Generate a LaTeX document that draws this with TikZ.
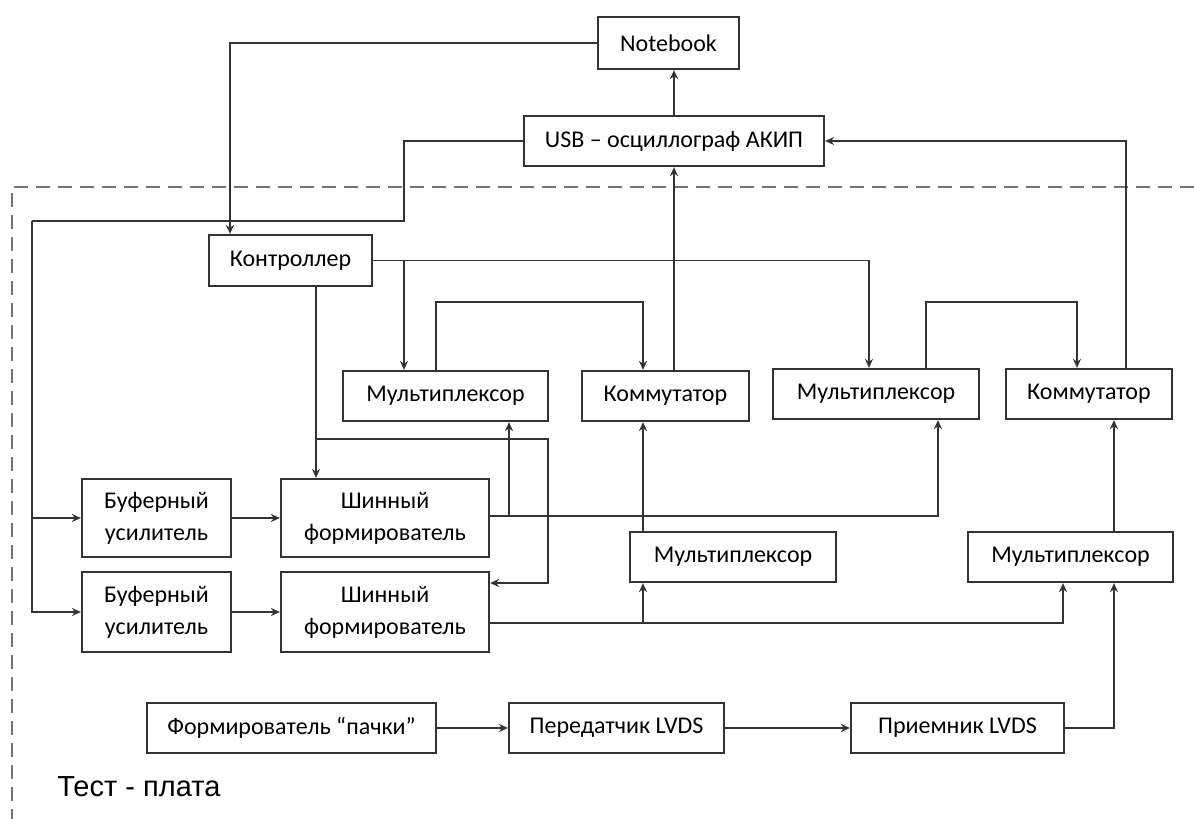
\documentclass[tikz,border=0pt]{standalone}
\usepackage{fontspec}
\setmainfont{Carlito}
\newfontfamily\labelfont{Liberation Sans}
\usetikzlibrary{arrows.meta,calc}

\begin{document}
\begin{tikzpicture}[x=0.5pt,y=-0.5pt,
		box/.style={draw=black!80, line width=1.1pt, inner sep=0pt, align=center, font=\fontsize{12}{16}\selectfont},
		wire/.style={draw=black!80, line width=0.9pt},
		arr/.style={wire, -{Stealth[length=4.5pt,width=4pt]}},
		board/.style={draw=black!55, line width=1.4pt, dash pattern=on 7pt off 4pt}]
				\useasboundingbox (0,0) rectangle (1194,819);
				
				\node[box, minimum width=70.5pt, minimum height=26pt] (nb) at (668.5,43) {Notebook};
				\node[box, minimum width=150pt, minimum height=25pt] (usb) at (674,141) {USB – осциллограф АКИП};
				\node[box, minimum width=81.5pt, minimum height=25.5pt] (ctrl) at (290.5,260.5) {Контроллер};
				\node[box, minimum width=102.5pt, minimum height=25pt] (mux1) at (445.5,396) {Мультиплексор};
				\node[box, minimum width=83.5pt, minimum height=25pt] (kom1) at (665.5,396) {Коммутатор};
				\node[box, minimum width=103pt, minimum height=25pt] (mux2) at (876,394) {Мультиплексор};
				\node[box, minimum width=83pt, minimum height=25pt] (kom2) at (1089,394) {Коммутатор};
				\node[box, minimum width=74.5pt, minimum height=39pt] (buf1) at (156.5,518) {Буферный\\усилитель};
				\node[box, minimum width=104pt, minimum height=39pt] (shf1) at (385,518) {Шинный\\формирователь};
				\node[box, minimum width=74.5pt, minimum height=40pt] (buf2) at (156.5,612) {Буферный\\усилитель};
				\node[box, minimum width=104pt, minimum height=40pt] (shf2) at (385,612) {Шинный\\формирователь};
				\node[box, minimum width=103pt, minimum height=25pt] (mux3) at (733,557) {Мультиплексор};
				\node[box, minimum width=102.5pt, minimum height=25pt] (mux4) at (1070.5,557) {Мультиплексор};
				\node[box, minimum width=144.5pt, minimum height=25pt] (form) at (291.5,728) {Формирователь “пачки”};
				\node[box, minimum width=107.5pt, minimum height=25pt] (tx) at (616.5,728) {Передатчик LVDS};
				\node[box, minimum width=106.5pt, minimum height=25pt] (rx) at (957.5,728) {Приемник LVDS};
				\node[font=\labelfont\fontsize{14.5}{17}\selectfont, inner sep=0pt, anchor=west] (lbl) at (57,787) {Тест - плата};
				
				\coordinate (ctrlin) at ($(ctrl.north)+(-60.5,0)$);
				\coordinate (busA) at (404,221);
				\coordinate (busB) at (32,221);
				\coordinate (m1in) at ($(mux1.north)+(-41.5,0)$);
				\coordinate (m2in) at ($(mux2.north)+(-7,0)$);
				\coordinate (m1out) at ($(mux1.north)+(-9.5,0)$);
				\coordinate (k1in) at ($(kom1.north)+(-22.5,0)$);
				\coordinate (m2out) at ($(mux2.north)+(50,0)$);
				\coordinate (k2in) at ($(kom2.north)+(-12,0)$);
				\coordinate (k2out) at ($(kom2.north)+(37,0)$);
				\coordinate (ctrlout) at ($(ctrl.south)+(25.5,0)$);
				\coordinate (fb) at (548,439);
				\coordinate (s2in) at ($(shf2.east)+(0,-29)$);
				\coordinate (s1out) at ($(shf1.east)+(0,-2)$);
				\coordinate (m1up) at ($(mux1.south)+(63.5,0)$);
				\coordinate (m2up) at ($(mux2.south)+(62,0)$);
				\coordinate (s2out) at ($(shf2.east)+(0,11)$);
				\coordinate (m3up) at ($(mux3.south)+(-90,0)$);
				\coordinate (m4upA) at ($(mux4.south)+(-7.5,0)$);
				\coordinate (m4upB) at ($(mux4.south)+(43.5,0)$);
				
				\draw[board] (1194,187) -- (12,187) -- (12,819);
				
				\draw[arr] (nb.west) -| (ctrlin);
				\draw[arr] (usb.north) -- (usb.north |- nb.south);
				\draw[wire] (usb.west) -| (busA) -- (busB);
				\draw[arr] (busB) |- (buf2.west);
				\draw[arr] (busB |- buf1.west) -- (buf1.west);
				\draw[arr] (ctrl.east) -| (m2in);
				\draw[arr] (ctrl.east -| m1in) -- (m1in);
				\draw[arr] (m1out) -- ++(0,-68) -| (k1in);
				\draw[arr] (usb.south |- kom1.north) -- (usb.south);
				\draw[arr] (m2out) -- ++(0,-66) -| (k2in);
				\draw[arr] (k2out) |- (usb.east);
				\draw[arr] (ctrlout) -- (ctrlout |- shf1.north);
				\draw[arr] (ctrlout |- fb) -- (fb) |- (s2in);
				\draw[arr] (buf1.east) -- (shf1.west);
				\draw[arr] (buf2.east) -- (shf2.west);
				\draw[arr] (s1out) -| (m2up);
				\draw[arr] (s1out -| m1up) -- (m1up);
				\draw[arr] (s2out) -| (m4upA);
				\draw[arr] (s2out -| m3up) -- (m3up);
				\draw[arr] (k1in |- mux3.north) -- (k1in |- kom1.south);
				\draw[arr] (m4upB |- mux4.north) -- (m4upB |- kom2.south);
				\draw[arr] (form.east) -- (tx.west);
				\draw[arr] (tx.east) -- (rx.west);
				\draw[arr] (rx.east) -| (m4upB);
			\end{tikzpicture}
\end{document}
